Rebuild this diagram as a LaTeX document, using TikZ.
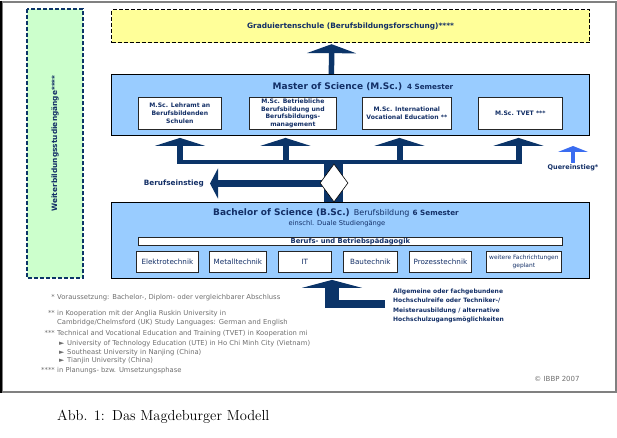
\documentclass[tikz,border=0pt]{standalone}
\usepackage{fontspec}
\newfontfamily\verd{DejaVu Sans}
\usetikzlibrary{positioning,calc,arrows.meta,shapes.geometric}
\definecolor{navy}{HTML}{0B3468}
\definecolor{textnavy}{HTML}{132F66}
\definecolor{boxblue}{HTML}{99CCFF}
\definecolor{gradyellow}{HTML}{FFFF99}
\definecolor{weitgreen}{HTML}{CCFFCC}
\definecolor{querblue}{HTML}{3A6CF0}
\definecolor{notegray}{HTML}{6E6E6E}
\newcommand{\fsz}[2]{\fontsize{#1}{#2}\selectfont}
\tikzset{
  every node/.style={font=\verd, text=textnavy},
  dashbox/.style={dashed, line width=1.2pt, dash pattern=on 4pt off 2pt, inner sep=0pt},
  progbox/.style={draw=black, fill=boxblue, line width=0.9pt, anchor=north west, minimum width=478pt, inner sep=0pt},
  msbox/.style={draw=black!85, fill=white, line width=0.7pt, anchor=north west, minimum height=32pt, inner sep=0.5pt, align=center, font=\verd\bfseries\fsz{6.1}{7.7}},
  fachbox/.style={draw=black!85, fill=white, line width=0.7pt, anchor=north west, minimum height=21pt, inner sep=1pt, align=center, font=\verd\fsz{7.2}{8.6}},
  flow/.style={draw=navy, line width=6pt},
  uptip/.style={-{Triangle[length=8pt,width=50pt]}},
  note/.style={anchor=base west, text=notegray, font=\verd\fsz{6.8}{8}, inner sep=0pt},
  notemark/.style={anchor=base east, text=notegray, font=\verd\fsz{6.8}{8}, inner sep=0pt},
}
\begin{document}
\begin{tikzpicture}[x=1pt,y=-1pt]
\useasboundingbox (0,0) rectangle (617,438);
% outer frame
\node[draw=gray, line width=1.6pt, anchor=north west, minimum width=614pt, minimum height=390pt, inner sep=0pt] (frame) at (1,1) {};
\draw[line width=1.6pt] (frame.north west) -- (frame.south west);

% side and top boxes
\node[dashbox, draw=navy, fill=weitgreen, rotate=90, minimum width=269pt, minimum height=56pt,
      font=\verd\bfseries\fsz{7.4}{9}] (weiter) at (55,143.5) {Weiterbildungsstudiengänge****};
\node[dashbox, draw=black, fill=gradyellow, anchor=north west, minimum width=478pt, minimum height=33pt,
      font=\verd\bfseries\fsz{7.4}{9}] (grad) at (111,9) {Graduiertenschule (Berufsbildungsforschung)****};

% master
\node[progbox, minimum height=61pt] (master) at (111,74) {};
\node[font=\verd\bfseries\fsz{9}{11}] (mtitle) at (363,87) {Master of Science (M.Sc.)\hspace{5pt}{\fsz{7.2}{9}4 Semester}};
\node[msbox, minimum width=83pt] (ms1) at (138,97) {M.Sc. Lehramt an\\Berufsbildenden\\Schulen};
\node[msbox, minimum width=87pt] (ms2) at (249,97) {M.Sc. Betriebliche\\Berufsbildung und\\Berufsbildungs-\\management};
\node[msbox, minimum width=89pt] (ms3) at (362,97) {M.Sc. International\\Vocational Education **};
\node[msbox, minimum width=84pt] (ms4) at (478,97) {M.Sc. TVET ***};

% bachelor
\node[progbox, minimum height=76pt] (bachelor) at (111,202) {};
\node[font=\verd\bfseries\fsz{9}{11}] (btitle) at (336,213) {Bachelor of Science (B.Sc.) {\mdseries\fsz{8}{11}Berufsbildung} {\fsz{7.2}{9}6 Semester}};
\node[font=\verd\fsz{6.7}{8}] (bsub) at (337,223.5) {einschl. Duale Studiengänge};
\node[draw=black!85, fill=white, line width=0.7pt, anchor=north west, minimum width=424pt, minimum height=8pt,
      inner sep=0pt, font=\verd\bfseries\fsz{6.8}{7}] (bbp) at (138,237) {Berufs- und Betriebspädagogik};
\node[fachbox, minimum width=62pt] (fach1) at (136,251) {Elektrotechnik};
\node[fachbox, minimum width=57pt] (fach2) at (209,251) {Metalltechnik};
\node[fachbox, minimum width=53pt] (fach3) at (278,251) {IT};
\node[fachbox, minimum width=54pt] (fach4) at (343,251) {Bautechnik};
\node[fachbox, minimum width=62pt] (fach5) at (409,251) {Prozesstechnik};
\node[fachbox, minimum width=75pt, font=\verd\fsz{5.9}{8}] (fach6) at (486,251) {weitere Fachrichtungen\\geplant};

% tree of arrows between bachelor and master
\coordinate (bar1) at (180,162.5);
\coordinate (bar2) at (285.5,162.5);
\coordinate (bar3) at (399.5,162.5);
\coordinate (bar4) at (518.5,162.5);
\coordinate (trunktop) at (333.5,164);
\coordinate (einstieg) at (210,183.5);
\draw[flow, line width=4pt] ($(bar1)+(-3,0)$) -- ($(bar4)+(3,0)$);
\foreach \b in {bar1,bar2,bar3,bar4}
  \draw[flow, uptip] ($(\b)+(0,1.5)$) -- ($(\b |- master.south)+(0,2)$);
\draw[flow, line width=19pt] (trunktop) -- (trunktop |- bachelor.north);
\draw[flow, line width=7pt, -{Triangle[length=8pt,width=30pt]}] (trunktop |- einstieg) -- (einstieg);
\node[diamond, draw=black, fill=white, line width=0.6pt, minimum width=28pt, minimum height=38pt, inner sep=0pt] (gate) at (334,183) {};
\node[left=6pt of einstieg, inner sep=0pt, font=\verd\bfseries\fsz{7.3}{9}] (lbein) {Berufseinstieg};

% master -> graduate school
\draw[flow, line width=5.5pt, -{Triangle[length=9pt,width=49pt]}] ($(master.north)+(-19,0)$) -- ($(grad.south)+(-19,1)$);

% lateral entry
\coordinate (quer) at (573,163);
\draw[draw=querblue, line width=3.5pt, -{Triangle[length=6pt,width=30pt]}] (quer) -- ++(0,-17);
\node[below=1.5pt of quer, inner sep=0pt, font=\verd\bfseries\fsz{6.5}{8}] (lbquer) {Quereinstieg*};

% entry into bachelor
\coordinate (zugang) at (385,304);
\coordinate (knick) at (332,308);
\draw[flow, line width=8pt] (zugang) -- (zugang -| knick);
\draw[flow, line width=14pt, -{Triangle[length=8pt,width=60pt]}] (knick) -- ($(knick |- bachelor.south)+(0,1)$);
\node[right=8pt of zugang, yshift=-2pt, inner sep=0pt, align=left, font=\verd\bfseries\fsz{6}{9.5}] (zugtext)
  {Allgemeine oder fachgebundene\\Hochschulreife oder Techniker-/\\Meisterausbildung / alternative\\Hochschulzugangsmöglichkeiten};

% footnotes
\foreach \y/\m/\t in {297/*/{Voraussetzung: Bachelor-, Diplom- oder vergleichbarer Abschluss},
                      313/**/{in Kooperation mit der Anglia Ruskin University in},
                      333/***/{Technical and Vocational Education and Training (TVET) in Kooperation mi},
                      370/****/{in Planungs- bzw. Umsetzungsphase}}{
  \node[notemark] (mark\y) at (55,\y+2.5) {\m};
  \node[note] (note\y) at (57,\y+2.5) {\t};
}
\node[note] (note322) at (57,324.5) {Cambridge/Chelmsford (UK) Study Languages: German and English};
\foreach \y/\t in {343/{University of Technology Education (UTE) in Ho Chi Minh City (Vietnam)},
                   351.5/{Southeast University in Nanjing (China)},
                   360/{Tianjin University (China)}}{
  \node[note] (bul\y) at (59,\y+2.5) {►};
  \node[note] (uni\y) at (67,\y+2.5) {\t};
}
\node[text=notegray, font=\verd\fsz{7}{8}] (copy) at (557,379) {© IBBP 2007};

% caption
\node[anchor=west, inner sep=0pt, text=black, font=\rmfamily\fsz{14.5}{17}] (caption) at (57,417) {Abb. 1:\enspace Das Magdeburger Modell};
\end{tikzpicture}
\end{document}
